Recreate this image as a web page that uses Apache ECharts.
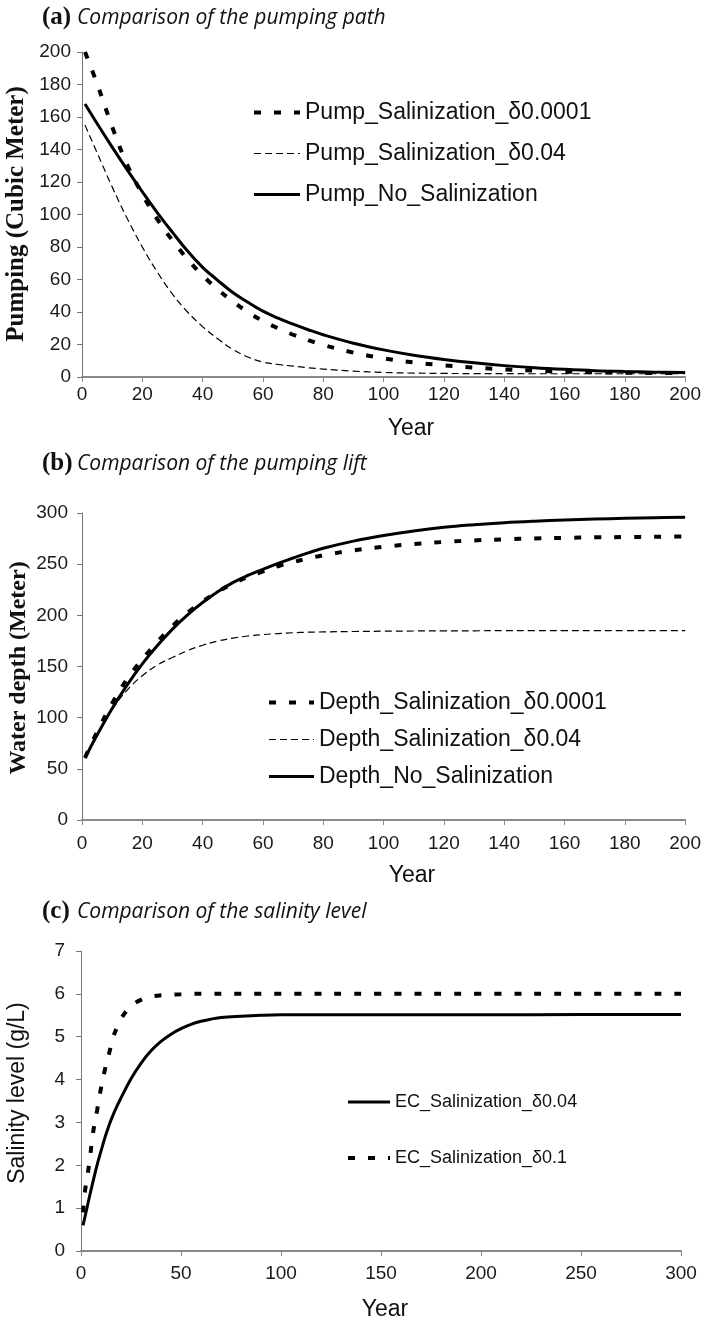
<!DOCTYPE html>
<html>
<head>
<meta charset="utf-8">
<script src="https://cdn.jsdelivr.net/npm/echarts@6/dist/echarts.min.js"></script>
<style>
html,body{margin:0;padding:0;background:#fff;}
#chart{width:704px;height:1323px;}
</style>
</head>
<body>
<div id="chart"></div>
<script>
// ---------- Panel (a): pumping path ----------
const yearsA = [1, 5, 10, 15, 20, 25, 30, 35, 40, 45, 50, 55, 60, 65, 70, 75, 80, 90, 100, 110, 120, 130, 140, 150, 160, 170, 180, 190, 200];
const pumpSal0001 = [200, 180.5, 154, 130.5, 112.5, 97, 84, 72.5, 62.5, 54, 46.5, 40, 34.5, 30, 26, 22.7, 19.7, 15, 11.5, 9, 7.2, 5.8, 4.7, 3.9, 3.3, 2.9, 2.6, 2.5, 2.4];
const pumpSal004  = [155, 138, 117, 97.5, 80, 64.5, 51, 40, 31, 23.5, 17, 12.3, 9.2, 7.7, 6.7, 5.7, 4.9, 3.6, 2.8, 2.4, 2.2, 2.1, 2.05, 2.0, 2.0, 2.0, 2.0, 2.0, 2.0];
const pumpNoSal   = [168, 156, 141.5, 127.5, 114, 101, 89, 77.5, 67.5, 59.5, 52, 46, 40.5, 36.2, 32.5, 29.1, 26, 20.8, 16.7, 13.4, 10.8, 8.7, 7.0, 5.7, 4.7, 3.9, 3.4, 3.0, 2.7];
const namesA = ['Pump_Salinization_\u03b40.0001', 'Pump_Salinization_\u03b40.04', 'Pump_No_Salinization'];

// ---------- Panel (b): pumping lift ----------
const yearsB = [1, 5, 10, 15, 20, 25, 30, 35, 40, 45, 50, 55, 60, 65, 70, 75, 80, 90, 100, 110, 120, 130, 140, 150, 160, 170, 180, 190, 200];
const depthSal0001 = [61, 86, 114, 138, 157, 174, 189.5, 202.5, 213.5, 223, 231, 237.5, 243, 248, 252, 255.5, 258.7, 263.5, 267, 269.7, 271.7, 273.2, 274.3, 275.1, 275.7, 276.2, 276.5, 276.8, 277];
const depthSal004  = [61, 83, 108, 127, 141, 151.5, 158.8, 165.5, 170.8, 174.8, 177.7, 179.8, 181.2, 182.2, 183, 183.5, 183.8, 184.2, 184.5, 184.7, 184.8, 184.9, 185, 185, 185, 185, 185, 185, 185];
const depthNoSal   = [60.5, 83, 109, 132, 152.5, 170.5, 186.5, 200.5, 212.5, 223, 232, 239, 245, 250.8, 256, 261, 265.5, 272.5, 278, 282.5, 286, 288.5, 290.5, 292, 293.2, 294.1, 294.8, 295.4, 295.8];
const namesB = ['Depth_Salinization_\u03b40.0001', 'Depth_Salinization_\u03b40.04', 'Depth_No_Salinization'];

// ---------- Panel (c): salinity level ----------
const yearsC = [1, 2, 4, 6, 8, 10, 12, 14, 16, 18, 20, 25, 30, 35, 40, 45, 50, 55, 60, 65, 70, 80, 90, 100, 150, 200, 250, 300];
const ecSal004 = [0.6, 0.8, 1.22, 1.62, 2.0, 2.33, 2.65, 2.93, 3.17, 3.38, 3.57, 4.02, 4.38, 4.67, 4.89, 5.06, 5.19, 5.29, 5.36, 5.41, 5.45, 5.48, 5.5, 5.51, 5.51, 5.51, 5.52, 5.52];
const ecSal01  = [0.9, 1.4, 2.0, 2.75, 3.27, 3.8, 4.24, 4.6, 4.97, 5.22, 5.42, 5.71, 5.86, 5.93, 5.97, 5.98, 5.99, 6.0, 6.0, 6.0, 6.0, 6.0, 6.0, 6.0, 6.0, 6.0, 6.0, 6.0];
const namesC = ['EC_Salinization_\u03b40.04', 'EC_Salinization_\u03b40.1'];

const pair = (xs, ys) => xs.map((x, i) => [x, ys[i]]);

const SANS = "'Liberation Sans', Arial, sans-serif";
const SERIF = "'Liberation Serif', 'Times New Roman', serif";
const ITAL = "'Open Sans', 'Noto Sans', sans-serif";
const AXC = '#8a8a8a';

const dotted = { color: '#000', width: 4, type: [7, 13], cap: 'butt' };
const thinDash = { color: '#000', width: 1.2, type: [7, 4], cap: 'butt' };
const solid = { color: '#000', width: 3, type: 'solid' };

function line(name, data, style, xi, yi, z) {
  return {
    type: 'line', name, data, xAxisIndex: xi, yAxisIndex: yi,
    symbol: 'none', showSymbol: false, smooth: 0.4,
    lineStyle: style, itemStyle: { color: '#000' }, z: z || 2,
    emphasis: { disabled: true }, animation: false
  };
}

function xAx(gi, max, interval, margin) {
  return {
    type: 'value', gridIndex: gi, min: 0, max, interval,
    axisLine: { show: true, lineStyle: { color: AXC, width: 2 } },
    axisTick: { show: true, length: 5, lineStyle: { color: AXC, width: 1 } },
    axisLabel: { color: '#1a1a1a', fontSize: 19, fontFamily: SANS, margin },
    splitLine: { show: false }
  };
}
function yAx(gi, max, interval, margin) {
  return {
    type: 'value', gridIndex: gi, min: 0, max, interval,
    axisLine: { show: true, lineStyle: { color: '#777', width: 1 } },
    axisTick: { show: true, length: 5, lineStyle: { color: '#777', width: 1 } },
    axisLabel: { color: '#1a1a1a', fontSize: 19, fontFamily: SANS, margin },
    splitLine: { show: false }
  };
}

function titleTexts(tag, text, yc) {
  return [
    { type: 'text', x: 42, y: yc, style: { text: tag, font: 'bold 25px ' + SERIF, fill: '#111', verticalAlign: 'middle', align: 'left' } },
    { type: 'text', x: 77, y: yc, style: { text: text, font: 'italic 21px ' + ITAL, fill: '#111', verticalAlign: 'middle', align: 'left' } }
  ];
}

function legendCfg(names, left, top, iw, gap, fs) {
  return {
    data: names, orient: 'vertical', left, top,
    itemWidth: iw, itemHeight: 14, itemGap: gap, selectedMode: false,
    itemStyle: { opacity: 0, borderWidth: 0 },
    lineStyle: { width: 'inherit', type: 'inherit', cap: 'butt' },
    textStyle: { fontSize: fs, fontFamily: SANS, color: '#111' }
  };
}

const chart = echarts.init(document.getElementById('chart'), null, { renderer: 'canvas' });

chart.setOption({
  animation: false,
  backgroundColor: '#fff',
  grid: [
    { left: 82, top: 52, width: 610, height: 325 },
    { left: 82, top: 513, width: 609, height: 307 },
    { left: 81, top: 951, width: 600, height: 300 }
  ],
  xAxis: [
    xAx(0, 200, 20, 8),
    xAx(1, 200, 20, 14),
    xAx(2, 300, 50, 13)
  ],
  yAxis: [
    yAx(0, 200, 20, 11),
    yAx(1, 300, 50, 14),
    yAx(2, 7, 1, 16)
  ],
  legend: [
    legendCfg(namesA, 247, 96, 46, 18, 23),
    legendCfg(namesB, 262, 686, 45, 14, 23),
    legendCfg(namesC, 341, 1088, 42, 38, 18)
  ],
  graphic: [
    ...titleTexts('(a)', 'Comparison of the pumping path', 18),
    ...titleTexts('(b)', 'Comparison of the pumping lift', 464),
    ...titleTexts('(c)', 'Comparison of the salinity level', 912),
    { type: 'text', x: 17, y: 214, rotation: Math.PI / 2, style: { text: 'Pumping (Cubic Meter)', font: 'bold 25px ' + SERIF, fill: '#111', align: 'center', verticalAlign: 'middle' } },
    { type: 'text', x: 19, y: 668, rotation: Math.PI / 2, style: { text: 'Water depth (Meter)', font: 'bold 24px ' + SERIF, fill: '#111', align: 'center', verticalAlign: 'middle' } },
    { type: 'text', x: 18, y: 1093, rotation: Math.PI / 2, style: { text: 'Salinity level (g/L)', font: '23px ' + SANS, fill: '#111', align: 'center', verticalAlign: 'middle' } },
    { type: 'text', x: 411, y: 429, style: { text: 'Year', font: '23px ' + SANS, fill: '#111', align: 'center', verticalAlign: 'middle' } },
    { type: 'text', x: 412, y: 876, style: { text: 'Year', font: '23px ' + SANS, fill: '#111', align: 'center', verticalAlign: 'middle' } },
    { type: 'text', x: 385, y: 1310, style: { text: 'Year', font: '23px ' + SANS, fill: '#111', align: 'center', verticalAlign: 'middle' } }
  ],
  series: [
    line(namesA[0], pair(yearsA, pumpSal0001), dotted, 0, 0, 3),
    line(namesA[1], pair(yearsA, pumpSal004), thinDash, 0, 0, 2),
    line(namesA[2], pair(yearsA, pumpNoSal), solid, 0, 0, 2),
    line(namesB[0], pair(yearsB, depthSal0001), dotted, 1, 1, 3),
    line(namesB[1], pair(yearsB, depthSal004), thinDash, 1, 1, 2),
    line(namesB[2], pair(yearsB, depthNoSal), solid, 1, 1, 2),
    line(namesC[0], pair(yearsC, ecSal004), solid, 2, 2, 2),
    line(namesC[1], pair(yearsC, ecSal01), dotted, 2, 2, 3)
  ]
});
</script>
</body>
</html>
